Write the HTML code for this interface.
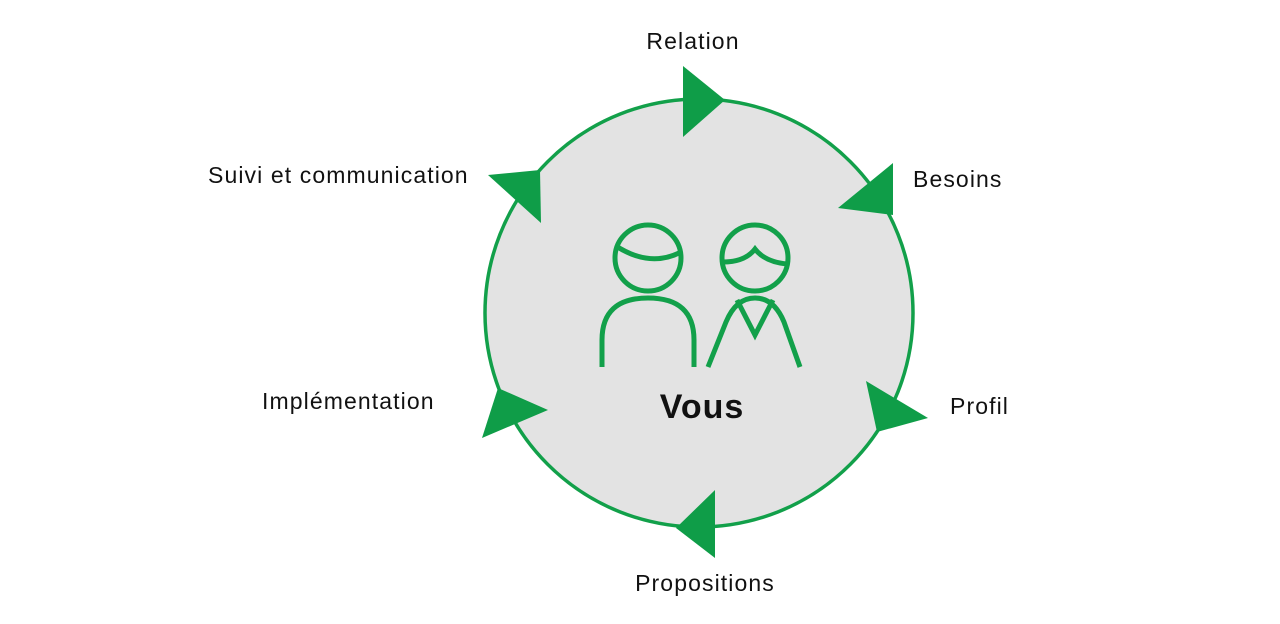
<!DOCTYPE html>
<html><head><meta charset="utf-8"><style>
html,body{margin:0;padding:0;background:#fff;}
svg{display:block;}
text{font-family:"Liberation Sans",sans-serif;fill:#111;}
</style></head><body>
<svg width="1280" height="624" viewBox="0 0 1280 624">
<circle cx="699" cy="313" r="214" fill="#e3e3e3" stroke="#12a04a" stroke-width="3.5"/>
<g fill="#0f9d48">
<polygon points="683,66 683,137 725,100"/>
<polygon points="488,175 540,170 541,223"/>
<polygon points="893,163 838,208 893,215"/>
<polygon points="866,381 877,432 928,418"/>
<polygon points="715,490 676,528 715,558"/>
<polygon points="498,388 548,410 482,438"/>
</g>
<g fill="none" stroke="#12a04a" stroke-width="5" stroke-linecap="butt">
<circle cx="648" cy="258" r="33"/>
<path d="M616,246 Q650,268 681,252"/>
<path d="M602,367 L602,340 Q602,298 648,298 Q694,298 694,340 L694,367"/>
<circle cx="755" cy="258" r="33"/>
<path d="M723,262 Q745,262 755,249 Q765,262 787,264"/>
<path d="M708,367 L726,322 Q736,298 755,298 Q774,298 784,322 L800,367"/>
<path d="M737,300 L755,335 L773,300"/>
</g>
<text x="702" y="418" font-size="34" font-weight="bold" text-anchor="middle" letter-spacing="1">Vous</text>
<g font-size="23" letter-spacing="1.1">
<text x="693" y="49" text-anchor="middle">Relation</text>
<text x="208" y="183">Suivi et communication</text>
<text x="913" y="187">Besoins</text>
<text x="950" y="414">Profil</text>
<text x="262" y="409">Implémentation</text>
<text x="705" y="591" text-anchor="middle">Propositions</text>
</g>
</svg>
</body></html>
